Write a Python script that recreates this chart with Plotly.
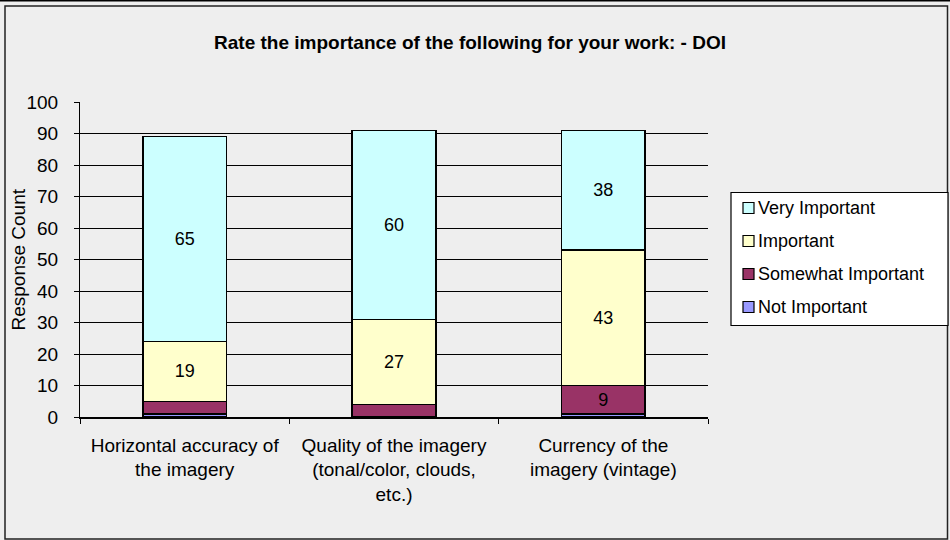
import plotly.graph_objects as go

# Survey responses per imagery attribute
categories = [
    "Horizontal accuracy of<br>the imagery",
    "Quality of the imagery<br>(tonal/color, clouds,<br>etc.)",
    "Currency of the<br>imagery (vintage)",
]
not_important = [1, 0, 1]
somewhat_important = [4, 4, 9]
important = [19, 27, 43]
very_important = [65, 60, 38]

series = [
    ("Not Important", not_important, "#9999FF", False),
    ("Somewhat Important", somewhat_important, "#993366", True),
    ("Important", important, "#FFFFCC", True),
    ("Very Important", very_important, "#CCFFFF", True),
]

FONT = "Liberation Sans, Arial, sans-serif"
W, H = 950, 540
PL, PR, PT, PB = 80, 708, 102, 417  # plot area in pixels


def px(x):
    return (x - PL) / (PR - PL)


def py(y):
    return (PB - y) / (PB - PT)


fig = go.Figure()
for name, vals, color, labelled in series:
    text = [str(v) if (labelled and v >= 9) else "" for v in vals]
    fig.add_trace(go.Bar(
        name=name,
        x=categories,
        y=vals,
        text=text,
        textposition="inside",
        insidetextanchor="middle",
        textangle=0,
        constraintext="none",
        textfont=dict(size=18, color="black", family=FONT),
        marker=dict(color=color, line=dict(color="black", width=1.5)),
        width=0.4,
        hoverinfo="skip",
        showlegend=False,
    ))

shapes = [
    # outer frame
    dict(type="line", xref="paper", yref="paper", x0=px(0), x1=px(W), y0=py(0.8), y1=py(0.8),
         line=dict(color="black", width=1.6)),
    dict(type="rect", xref="paper", yref="paper", x0=px(5), x1=px(947.5), y0=py(6), y1=py(539),
         line=dict(color="#222222", width=1.5), layer="below"),
    # legend box
    dict(type="rect", xref="paper", yref="paper", x0=px(731), x1=px(948), y0=py(192.5), y1=py(325.5),
         fillcolor="white", line=dict(color="black", width=1.2), layer="below"),
]

# Y-axis title
annotations = [dict(
    text="Response Count", xref="paper", yref="paper",
    x=px(18), y=py((PT + PB) / 2), xanchor="center", yanchor="middle",
    textangle=-90, showarrow=False,
    font=dict(family=FONT, size=19, color="black"),
)]

# Legend entries, top to bottom in reverse stacking order
for i, (name, _, color, _) in enumerate(reversed(series)):
    cy = 208 + 33 * i
    shapes.append(dict(
        type="rect", xref="paper", yref="paper",
        x0=px(743), x1=px(754), y0=py(cy - 5.5), y1=py(cy + 5.5),
        fillcolor=color, line=dict(color="black", width=1.2),
    ))
    annotations.append(dict(
        text=name, xref="paper", yref="paper", x=px(756), y=py(cy),
        xanchor="left", yanchor="middle", showarrow=False,
        font=dict(family=FONT, size=18, color="black"),
    ))

fig.update_layout(
    width=W, height=H,
    margin=dict(l=PL, r=W - PR, t=PT, b=H - PB, pad=0, autoexpand=False),
    paper_bgcolor="#EEEEEE",
    plot_bgcolor="#EEEEEE",
    barmode="stack",
    font=dict(family=FONT, size=19, color="black"),
    title=dict(
        text="Rate the importance of the following for your work: - DOI",
        x=px(470), xref="paper", xanchor="center",
        y=1 - 42 / H, yref="container", yanchor="middle",
        font=dict(family=FONT, size=19, color="black", weight=600),
    ),
    showlegend=False,
    shapes=shapes,
    annotations=annotations,
)

fig.update_yaxes(
    range=[0, 100], dtick=10, tick0=0,
    showgrid=True, gridcolor="black", gridwidth=1,
    showline=True, linecolor="black", linewidth=1.2,
    ticks="outside", ticklen=5, tickcolor="black",
    ticklabelstandoff=12,
    zeroline=False,
    automargin=False,
    tickfont=dict(size=19),
)
fig.update_xaxes(
    showline=True, linecolor="black", linewidth=1.5,
    ticks="outside", tickson="boundaries", ticklen=5, tickcolor="black",
    ticklabelstandoff=10,
    automargin=False,
    tickfont=dict(size=19),
    showgrid=False,
)

fig.write_html("out.html")
